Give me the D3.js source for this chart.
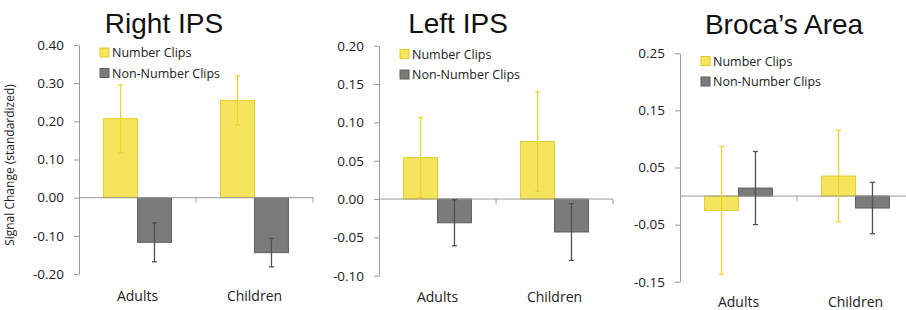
<!DOCTYPE html>
<html>
<head>
<meta charset="utf-8">
<script src="https://cdn.jsdelivr.net/npm/d3@7"></script>
<style>
  body { margin: 0; background: #fff; }
  svg { display: block; }
  .tick text { font-family: "Open Sans", sans-serif; font-size: 13.5px; fill: #222; }
</style>
</head>
<body>
<div id="app"></div>
<script>
// data
var categories = ["Adults", "Children"]
var series = ["Number Clips", "Non-Number Clips"]
var regions = ["Right IPS", "Left IPS", "Broca\u2019s Area"]

var rightNumber = [0.207, 0.255]
var rightNumberErr = [0.088, 0.064]
var rightNonNumber = [-0.117, -0.144]
var rightNonNumberErr = [0.051, 0.037]

var leftNumber = [0.054, 0.075]
var leftNumberErr = [0.052, 0.065]
var leftNonNumber = [-0.031, -0.043]
var leftNonNumberErr = [0.030, 0.037]

var brocaNumber = [-0.025, 0.035]
var brocaNumberErr = [0.112, 0.080]
var brocaNonNumber = [0.014, -0.021]
var brocaNonNumberErr = [0.064, 0.045]

var rightTicks = [-0.2, -0.1, 0, 0.1, 0.2, 0.3, 0.4]
var leftTicks = [-0.1, -0.05, 0, 0.05, 0.1, 0.15, 0.2]
var brocaTicks = [-0.15, -0.05, 0.05, 0.15, 0.25]

// panel layout (pixels)
var panels = [
  { title: regions[0], num: rightNumber, numErr: rightNumberErr, non: rightNonNumber, nonErr: rightNonNumberErr,
    ticks: rightTicks, left: 79, top: 45, bottom: 274, titleX: 164, titleY: 33, legendY: 52.5, catY: 301 },
  { title: regions[1], num: leftNumber, numErr: leftNumberErr, non: leftNonNumber, nonErr: leftNonNumberErr,
    ticks: leftTicks, left: 379, top: 45.7, bottom: 275.7, titleX: 458, titleY: 33, legendY: 54, catY: 302 },
  { title: regions[2], num: brocaNumber, numErr: brocaNumberErr, non: brocaNonNumber, nonErr: brocaNonNumberErr,
    ticks: brocaTicks, left: 680, top: 53.3, bottom: 281.7, titleX: 784, titleY: 34, legendY: 61, catY: 307 }
]

var fills = { "Number Clips": "#f6e55c", "Non-Number Clips": "#7b7b7b" }
var strokes = { "Number Clips": "#e3cc2c", "Non-Number Clips": "#606060" }
var errColor = { "Number Clips": "#efd232", "Non-Number Clips": "#505050" }

var fmt = function (d) { return d3.format(".2f")(d).replace("\u2212", "-") }

var svg = d3.select("#app")
  .append("svg")
  .attr("width", 906)
  .attr("height", 310)

panels.forEach(function (p, pi) {
  var g = svg.append("g")
  var bandW = 234

  var y = d3.scaleLinear()
    .domain([d3.min(p.ticks), d3.max(p.ticks)])
    .range([p.bottom, p.top])

  var x0 = d3.scaleBand()
    .domain(categories)
    .range([p.left, p.left + bandW])
    .paddingInner(0.42)
    .paddingOuter(0.21)

  var x1 = d3.scaleBand()
    .domain(series)
    .range([0, x0.bandwidth()])

  // y axis
  var yAxis = g.append("g")
    .attr("transform", "translate(" + p.left + ",0)")
    .call(d3.axisLeft(y).tickValues(p.ticks).tickFormat(fmt).tickSize(5).tickSizeOuter(0).tickPadding(10))
  yAxis.select(".domain").attr("stroke", "#9a9a9a")
  yAxis.selectAll(".tick line").attr("stroke", "#9a9a9a")

  // rows of bars
  var rows = categories.map(function (c, i) {
    return [
      { cat: c, s: series[0], v: p.num[i], e: p.numErr[i] },
      { cat: c, s: series[1], v: p.non[i], e: p.nonErr[i] }
    ]
  })
  var flat = [].concat.apply([], rows)

  g.selectAll(".bar")
    .data(flat)
    .enter()
    .append("rect")
    .attr("class", "bar")
    .attr("x", function (d) { return x0(d.cat) + x1(d.s) })
    .attr("width", x1.bandwidth())
    .attr("y", function (d) { return Math.min(y(d.v), y(0)) })
    .attr("height", function (d) { return Math.abs(y(d.v) - y(0)) })
    .attr("fill", function (d) { return fills[d.s] })
    .attr("stroke", function (d) { return strokes[d.s] })
    .attr("stroke-width", 1)

  // x axis at zero
  g.append("line")
    .attr("x1", p.left).attr("x2", p.left + bandW)
    .attr("y1", y(0)).attr("y2", y(0))
    .attr("stroke", "#9a9a9a")
  g.selectAll(".xtick")
    .data([1, 2])
    .enter()
    .append("line")
    .attr("x1", function (d) { return p.left + d * x0.step() })
    .attr("x2", function (d) { return p.left + d * x0.step() })
    .attr("y1", y(0)).attr("y2", y(0) + 5)
    .attr("stroke", "#9a9a9a")

  // error bars
  var eb = g.selectAll(".err")
    .data(flat)
    .enter()
    .append("g")
    .attr("stroke", function (d) { return errColor[d.s] })
    .attr("stroke-width", 1.3)
  eb.append("line")
    .attr("x1", function (d) { return x0(d.cat) + x1(d.s) + x1.bandwidth() / 2 })
    .attr("x2", function (d) { return x0(d.cat) + x1(d.s) + x1.bandwidth() / 2 })
    .attr("y1", function (d) { return y(d.v + d.e) })
    .attr("y2", function (d) { return y(d.v - d.e) })
  ;[1, -1].forEach(function (sign) {
    eb.append("line")
      .attr("x1", function (d) { return x0(d.cat) + x1(d.s) + x1.bandwidth() / 2 - 2.5 })
      .attr("x2", function (d) { return x0(d.cat) + x1(d.s) + x1.bandwidth() / 2 + 2.5 })
      .attr("y1", function (d) { return y(d.v + sign * d.e) })
      .attr("y2", function (d) { return y(d.v + sign * d.e) })
  })

  // category labels
  g.selectAll(".cat")
    .data(categories)
    .enter()
    .append("text")
    .attr("x", function (d) { return x0(d) + x0.bandwidth() / 2 })
    .attr("y", p.catY)
    .attr("text-anchor", "middle")
    .style("font-family", "'Open Sans', sans-serif")
    .style("font-size", "14px")
    .attr("fill", "#222")
    .text(function (d) { return d })

  // title
  g.append("text")
    .attr("x", p.titleX)
    .attr("y", p.titleY)
    .attr("text-anchor", "middle")
    .style("font-family", "'Liberation Sans', Arial, sans-serif")
    .style("font-size", "28px")
    .attr("fill", "#111")
    .text(p.title)

  // legend
  var lg = g.selectAll(".legend")
    .data(series)
    .enter()
    .append("g")
    .attr("transform", function (d, i) { return "translate(" + (p.left + 21) + "," + (p.legendY + i * 20.5) + ")" })
  lg.append("rect")
    .attr("x", 0).attr("y", -4.5)
    .attr("width", 9).attr("height", 9)
    .attr("fill", function (d) { return fills[d] })
    .attr("stroke", function (d) { return strokes[d] })
  lg.append("text")
    .attr("x", 12)
    .attr("y", 4.5)
    .style("font-family", "'Open Sans', sans-serif")
    .style("font-size", "12.5px")
    .attr("fill", "#222")
    .text(function (d) { return d })
})

// y axis title (first panel only)
svg.append("text")
  .attr("transform", "translate(14,165) rotate(-90)")
  .attr("text-anchor", "middle")
  .style("font-family", "'Open Sans', sans-serif")
  .style("font-size", "12px")
  .attr("fill", "#222")
  .text("Signal Change (standardized)")
</script>
</body>
</html>
